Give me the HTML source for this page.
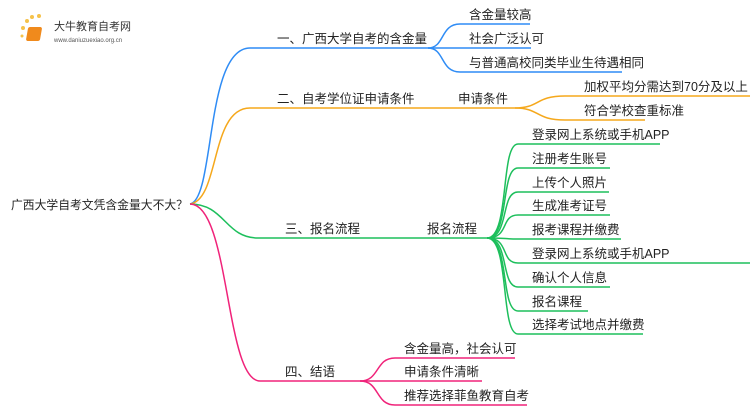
<!DOCTYPE html>
<html><head><meta charset="utf-8"><style>
body{margin:0;width:750px;height:410px;background:#fff;overflow:hidden;position:relative;font-family:"Liberation Sans","Noto Sans CJK SC",sans-serif}
svg{position:absolute;left:0;top:0}
text{font-family:"Liberation Sans","Noto Sans CJK SC",sans-serif;font-size:12.5px;fill:#222}
</style></head><body>
<svg width="750" height="410" viewBox="0 0 750 410" fill="none" stroke-width="1.5">
<g>
<circle cx="23" cy="28" r="2" fill="#f5c24a" stroke="none"/><circle cx="27" cy="21" r="2" fill="#f5c24a" stroke="none"/><circle cx="32" cy="17" r="2" fill="#f5c24a" stroke="none"/><circle cx="39" cy="16" r="2" fill="#f5c24a" stroke="none"/><circle cx="22" cy="36" r="1.5" fill="#f5c24a" stroke="none"/>
<rect x="33" y="27" width="14" height="14" rx="2" fill="#f08a1c" stroke="none" transform="skewX(-10)"/>
<text x="54" y="30" style="font-size:11px;fill:#333">大牛教育自考网</text>
<text x="54" y="42" style="font-size:6px;fill:#555">www.daniuzuexiao.org.cn</text>
</g>
<g stroke="#2f8cf5">
<path d="M190 204 C215 200,205 48,250 48 L428 48"/>
<path d="M428 48 C445 48,440 24,460 24 L530 24"/>
<path d="M428 48 L531 48"/>
<path d="M428 48 C445 48,440 72,460 72 L622 72"/>
</g>
<g stroke="#f5a81c">
<path d="M190 204 C220 200,210 108,250 108 L515 108"/>
<path d="M515 108 C540 108,535 96,565 96 L750 96"/>
<path d="M515 108 C540 108,535 120,565 120 L645 120"/>
</g>
<g stroke="#1dbf5c">
<path d="M190 204 C225 204,225 238,258 238 L487 238"/>
<path d="M487 238 C510 238,500 144,518 144 L660 144"/>
<path d="M487 238 C510 238,500 168,518 168 L610 168"/>
<path d="M487 238 C510 238,500 192,518 192 L609 192"/>
<path d="M487 238 C510 238,500 215,518 215 L610 215"/>
<path d="M487 238 C505 238,505 239,518 239 L621 239"/>
<path d="M487 238 C510 238,500 263,518 263 L750 263"/>
<path d="M487 238 C510 238,500 287,518 287 L610 287"/>
<path d="M487 238 C510 238,500 311,518 311 L588 311"/>
<path d="M487 238 C510 238,500 334,518 334 L643 334"/>
</g>
<g stroke="#f0237a">
<path d="M190 204 C230 204,225 381,260 381 L360 381"/>
<path d="M360 381 C380 381,375 358,395 358 L515 358"/>
<path d="M360 381 L482 381"/>
<path d="M360 381 C380 381,375 405,395 405 L527 405"/>
</g>
<text x="11" y="209" style="font-size:11.8px">广西大学自考文凭含金量大不大？</text>
<text x="277" y="43">一、广西大学自考的含金量</text>
<text x="469" y="19">含金量较高</text>
<text x="469" y="43">社会广泛认可</text>
<text x="469" y="67">与普通高校同类毕业生待遇相同</text>
<text x="277" y="103">二、自考学位证申请条件</text>
<text x="458" y="103">申请条件</text>
<text x="584" y="91">加权平均分需达到70分及以上</text>
<text x="584" y="115">符合学校查重标准</text>
<text x="285" y="233">三、报名流程</text>
<text x="427" y="233">报名流程</text>
<text x="532" y="139">登录网上系统或手机APP</text>
<text x="532" y="163">注册考生账号</text>
<text x="532" y="187">上传个人照片</text>
<text x="532" y="210">生成准考证号</text>
<text x="532" y="234">报考课程并缴费</text>
<text x="532" y="258">登录网上系统或手机APP</text>
<text x="532" y="282">确认个人信息</text>
<text x="532" y="306">报名课程</text>
<text x="532" y="329">选择考试地点并缴费</text>
<text x="285" y="376">四、结语</text>
<text x="404" y="353">含金量高，社会认可</text>
<text x="404" y="376">申请条件清晰</text>
<text x="404" y="400">推荐选择菲鱼教育自考</text>
</svg>
</body></html>
